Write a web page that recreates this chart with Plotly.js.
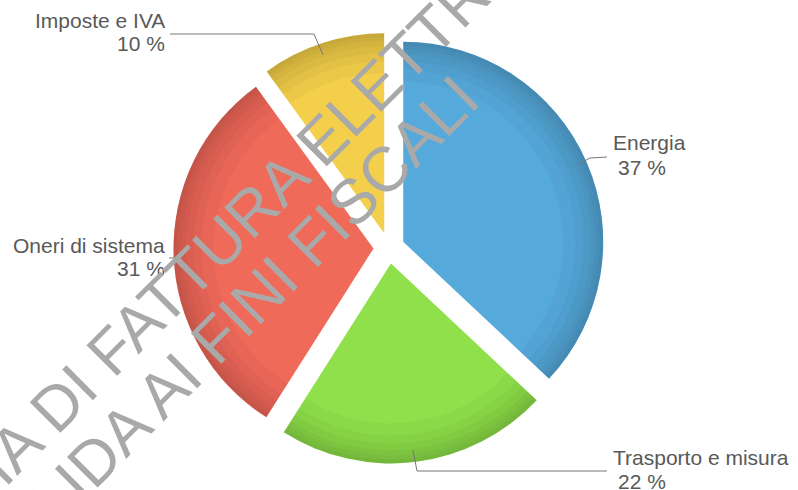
<!DOCTYPE html>
<html><head><meta charset="utf-8">
<script src="https://cdn.plot.ly/plotly-3.0.1.min.js"></script>
<style>html,body{margin:0;padding:0;background:#fff;} #chart{width:798px;height:490px;}</style>
</head><body><div id="chart"></div>
<script>
// ---- data ----
const categories = ["Energia", "Trasporto e misura", "Oneri di sistema", "Imposte e IVA"];
const values = [37, 22, 31, 10];
const colors = ["#56aadb", "#8fe04b", "#f06a5a", "#f3cf4b"];
const watermarkLines = ["COPIA DI FATTURA ELETTRONICA", "NON VALIDA AI FINI FISCALI"];

// ---- layout helpers ----
const W = 798, H = 490;
const px = x => x / W, py = y => 1 - y / H;
const pullFrac = 0.0775;
const cx = 389, cy = 248, R = 200;
const half = R * (1 + pullFrac);
const domain = {x: [px(cx - half), px(cx + half)], y: [py(cy + half), py(cy - half)]};

// label placement (pixel positions) per category, same order as categories
const labelPos = [
  {anchor: "left",  x: 612, xp: 617, y: 143, y2: 167, path: [[577,165],[590,158],[607,157]]},
  {anchor: "left",  x: 612, xp: 617, y: 457, y2: 481, path: [[413,450],[417,471],[607,471]]},
  {anchor: "right", x: 166, xp: 166, y: 245, y2: 268, path: [[169,258],[176,258]]},
  {anchor: "right", x: 166, xp: 166, y: 21,  y2: 44,  path: [[170,34],[314,34],[323,55]]}
];

const total = values.reduce((a, b) => a + b, 0);
const pct = values.map(v => Math.round(100 * v / total) + " %");

const base = {
  type: "pie", labels: categories, values: values, sort: false,
  direction: "clockwise", rotation: 0, pull: values.map(() => pullFrac),
  domain: domain, textinfo: "none", hoverinfo: "label+percent", showlegend: false
};
const traces = [Object.assign({}, base, {marker: {colors: colors, line: {width: 0}}})];
// soft darker rim (shading) built as thin overlay rings of the same slices
[0.80, 0.86, 0.90, 0.935, 0.96, 0.98].forEach(h => {
  traces.push(Object.assign({}, base, {hole: h, hoverinfo: "skip",
    marker: {colors: values.map(() => "rgba(0,0,0,0.032)"), line: {width: 0}}}));
});

const labelFont = {family: "Liberation Sans, Arial, sans-serif", size: 21, color: "#595959"};
const annotations = [];
categories.forEach((c, i) => {
  const p = labelPos[i];
  annotations.push({xref: "paper", yref: "paper", x: px(p.x), y: py(p.y), text: c,
    showarrow: false, xanchor: p.anchor, yanchor: "middle", font: labelFont, borderpad: 0});
  annotations.push({xref: "paper", yref: "paper", x: px(p.xp), y: py(p.y2), text: pct[i],
    showarrow: false, xanchor: p.anchor, yanchor: "middle", font: labelFont, borderpad: 0});
});
const wmPos = [[256, 206], [170, 384]];
watermarkLines.forEach((t, i) => {
  annotations.push({xref: "paper", yref: "paper", x: px(wmPos[i][0]), y: py(wmPos[i][1]),
    text: t, textangle: -45, showarrow: false, xanchor: "center", yanchor: "middle",
    font: {family: "Liberation Sans, Arial, sans-serif", size: 63, color: "#a9a9a9"}});
});

const shapes = labelPos.map(p => ({
  type: "path", xref: "paper", yref: "paper",
  path: p.path.map((pt, k) => (k ? "L" : "M") + px(pt[0]) + "," + py(pt[1])).join(" "),
  line: {color: "#777777", width: 1}
}));

Plotly.newPlot("chart", traces, {
  width: W, height: H, margin: {l: 0, r: 0, t: 0, b: 0},
  paper_bgcolor: "#ffffff", plot_bgcolor: "#ffffff",
  annotations: annotations, shapes: shapes
}, {displayModeBar: false, staticPlot: true});
</script></body></html>
